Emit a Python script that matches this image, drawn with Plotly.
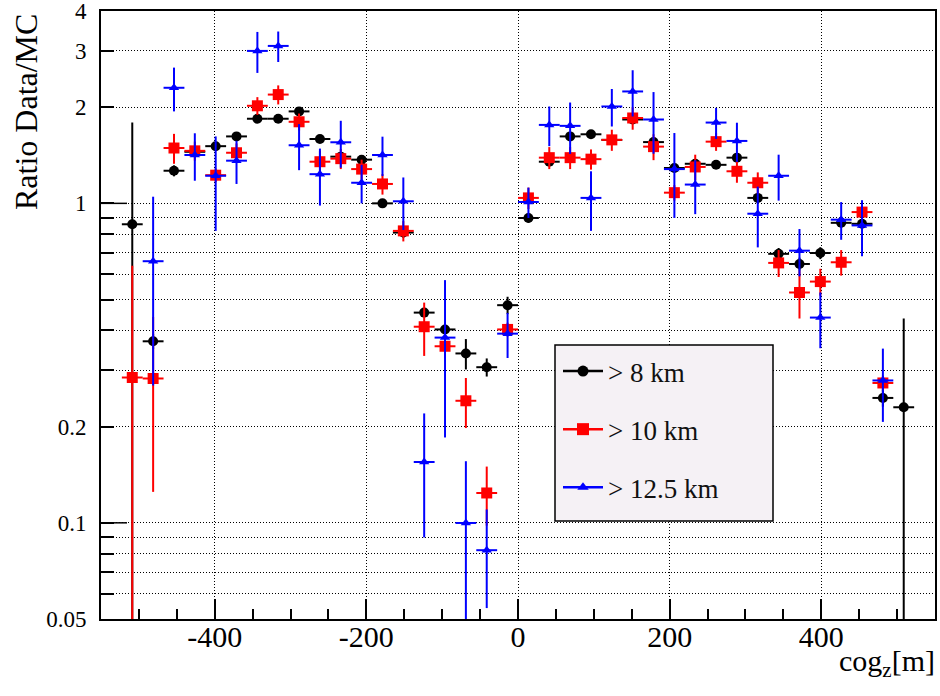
import plotly.graph_objects as go

# ---------------- data ----------------
bin_centers = [-508.75, -481.25, -453.75, -426.25, -398.75, -371.25, -343.75, -316.25,
               -288.75, -261.25, -233.75, -206.25, -178.75, -151.25, -123.75, -96.25,
               -68.75, -41.25, -13.75, 13.75, 41.25, 68.75, 96.25, 123.75,
               151.25, 178.75, 206.25, 233.75, 261.25, 288.75, 316.25, 343.75,
               371.25, 398.75, 426.25, 453.75, 481.25, 508.75]
bin_half_width = 13.75

ratio_8km = [0.86, 0.37, 1.265, 1.45, 1.51, 1.62, 1.84, 1.84,
             1.94, 1.59, 1.40, 1.37, 1.00, 0.81, 0.455, 0.403,
             0.339, 0.307, 0.48, 0.90, 1.35, 1.62, 1.645, 1.58,
             1.83, 1.555, 1.29, 1.33, 1.32, 1.39, 1.04, 0.695,
             0.646, 0.699, 0.869, 0.863, 0.246, 0.230]
err_8km = [0.93, 0.02, 0.05, 0.05, 0.04, 0.04, 0.03, 0.03,
           0.04, 0.04, 0.04, 0.04, 0.03, 0.03, 0.015, 0.02,
           0.037, 0.02, 0.03, 0.03, 0.04, 0.04, 0.04, 0.04,
           0.04, 0.04, 0.04, 0.04, 0.03, 0.04, 0.04, 0.03,
           0.03, 0.03, 0.03, 0.03, 0.015, 0.206]

ratio_10km = [0.285, 0.283, 1.49, 1.46, 1.225, 1.44, 2.02, 2.19,
              1.80, 1.35, 1.38, 1.28, 1.15, 0.82, 0.411, 0.357,
              0.241, 0.124, 0.403, 1.04, 1.39, 1.39, 1.375, 1.58,
              1.85, 1.505, 1.08, 1.30, 1.56, 1.26, 1.16, 0.651,
              0.526, 0.569, 0.654, 0.939, 0.274, None]
err_10km = [0.353, 0.158, 0.16, 0.10, 0.06, 0.10, 0.13, 0.15,
            0.11, 0.11, 0.10, 0.09, 0.085, 0.06, 0.078, 0.03,
            0.043, 0.026, 0.02, 0.08, 0.11, 0.11, 0.10, 0.12,
            0.15, 0.14, 0.06, 0.12, 0.10, 0.10, 0.09, 0.063,
            0.09, 0.055, 0.06, 0.06, 0.015, 0]

ratio_12p5km = [None, 0.659, 2.30, 1.417, 1.22, 1.36, 3.00, 3.11,
                1.52, 1.234, 1.553, 1.16, 1.417, 1.015, 0.155, 0.380,
                0.0999, 0.0821, 0.391, 1.01, 1.76, 1.748, 1.04, 2.01,
                2.24, 1.83, 1.28, 1.145, 1.79, 1.568, 0.928, 1.22,
                0.711, 0.439, 0.889, 0.853, 0.279, None]
err_12p5km = [0, 0.39, 0.36, 0.24, 0.40, 0.21, 0.44, 0.34,
              0.25, 0.25, 0.26, 0.16, 0.20, 0.19, 0.065, 0.195,
              0.056, 0.028, 0.063, 0.11, 0.25, 0.32, 0.22, 0.27,
              0.37, 0.40, 0.38, 0.22, 0.20, 0.22, 0.20, 0.20,
              0.12, 0.087, 0.12, 0.17, 0.072, 0]

series_names = ["> 8 km", "> 10 km", "> 12.5 km"]
series_colors = ["#000000", "#ff0000", "#0000ff"]
series_symbols = ["circle", "square", "triangle-up"]
series_sizes = [10, 11, 9]

x_tick_vals = [-400, -200, 0, 200, 400]
x_tick_text = ["-400", "-200", "0", "200", "400"]
x_minor_vals = [-500, -450, -350, -300, -250, -150, -100, -50,
                50, 100, 150, 250, 300, 350, 450, 500]
y_tick_vals = [0.05, 0.06, 0.07, 0.08, 0.09, 0.1, 0.2, 0.3, 0.4, 0.5,
               0.6, 0.7, 0.8, 0.9, 1, 2, 3, 4]
y_tick_text = ["0.05", "", "", "", "", "0.1", "0.2", "", "", "",
               "", "", "", "", "1", "2", "3", "4"]
y_decades = [0.1, 1]

# ---------------- layout geometry ----------------
W, H = 940, 696
L, R, T, B = 101, 5, 11, 77
PW, PH = W - L - R, H - T - B
FONT = "Liberation Serif"


def px_x(p):
    return (p - L) / PW


def px_y(p):
    return (H - B - p) / PH


def serif(size, color="black"):
    return dict(family=FONT, size=size, color=color, weight="normal",
                style="normal", variant="normal")


fig = go.Figure()

all_vals = [ratio_8km, ratio_10km, ratio_12p5km]
all_errs = [err_8km, err_10km, err_12p5km]
for vals, errs, name, col, sym, sz in zip(all_vals, all_errs, series_names,
                                          series_colors, series_symbols, series_sizes):
    fig.add_trace(go.Scatter(
        x=bin_centers, y=vals, mode="markers", name=name, showlegend=False,
        marker=dict(color=col, symbol=sym, size=sz, line=dict(width=0)),
        error_y=dict(type="data", array=errs, symmetric=True, color=col,
                     thickness=2, width=0),
        error_x=dict(type="constant", value=bin_half_width, color=col,
                     thickness=2, width=0),
    ))

# legend entries (line + marker sample)
for i, (name, col, sym, sz) in enumerate(zip(series_names, series_colors,
                                             series_symbols, series_sizes)):
    fig.add_trace(go.Scatter(
        x=[None], y=[None], mode="lines+markers", name=name,
        legendgroup="g%d" % i,
        marker=dict(color=col, symbol=sym, size=sz + 1, line=dict(width=0)),
        line=dict(color=col, width=2.5),
    ))

grid_dash = "1px,2px"
fig.update_layout(
    template="none",
    width=W, height=H,
    margin=dict(l=L, r=R, t=T, b=B),
    paper_bgcolor="white", plot_bgcolor="white",
    font=serif(14),
    showlegend=True,
    legend=dict(
        x=px_x(558), y=px_y(347), xanchor="left", yanchor="top",
        bgcolor="rgba(0,0,0,0)", borderwidth=0,
        font=serif(27, "#111111"),
        itemwidth=40, tracegroupgap=20,
    ),
    xaxis=dict(
        range=[-550, 550], showline=True, linecolor="black", linewidth=2, mirror=True,
        tickmode="array", tickvals=x_tick_vals, ticktext=x_tick_text,
        ticks="inside", ticklen=20, tickwidth=1.5, tickcolor="black",
        tickfont=serif(30),
        ticklabelstandoff=-10, ticklabeloverflow="allow",
        showgrid=True, gridcolor="black", gridwidth=1, griddash=grid_dash,
        zeroline=False,
        minor=dict(tickmode="array", tickvals=x_minor_vals, ticks="inside",
                   ticklen=10, tickwidth=1.5, tickcolor="black", showgrid=False),
    ),
    yaxis=dict(
        type="log", range=[-1.30103, 0.60206],
        showline=True, linecolor="black", linewidth=2, mirror=True,
        tickmode="array", tickvals=y_tick_vals, ticktext=y_tick_text,
        ticks="inside", ticklen=13, tickwidth=1.5, tickcolor="black",
        tickfont=serif(23),
        ticklabelstandoff=8, ticklabeloverflow="allow",
        showgrid=True, gridcolor="black", gridwidth=1, griddash=grid_dash,
        zeroline=False,
    ),
)

# long decade ticks on the y axis
for v in y_decades:
    fig.add_shape(type="line", xref="paper", yref="y", x0=0, x1=26 / PW, y0=v, y1=v,
                  line=dict(color="black", width=1.5))

# legend frame
fig.add_shape(type="rect", xref="paper", yref="paper",
              x0=px_x(555), x1=px_x(773), y0=px_y(521), y1=px_y(345),
              fillcolor="#f5f1f5", line=dict(color="black", width=1.5), layer="above")

# axis titles (ROOT style: placed at the axis ends)
fig.add_annotation(text="Ratio Data/MC", xref="paper", yref="paper",
                   x=px_x(6), y=px_y(12), xanchor="left", yanchor="top",
                   textangle=-90, showarrow=False, font=serif(32))
fig.add_annotation(text="cog<sub>z</sub>[m]", xref="paper", yref="paper",
                   x=px_x(937), y=px_y(663), xanchor="right", yanchor="middle",
                   showarrow=False, font=serif(30))

fig.write_html("out.html")
